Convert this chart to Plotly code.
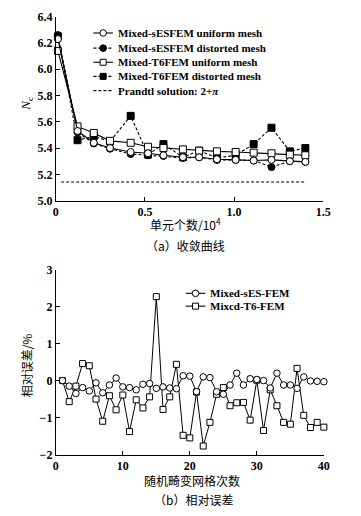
import plotly.graph_objects as go

# ---------------- data: (a) convergence curves ----------------
elements_1e4 = [0.012, 0.122, 0.213, 0.304, 0.42, 0.517, 0.604, 0.713, 0.804, 0.904, 1.009, 1.11, 1.21, 1.313, 1.40]
ses_uniform = [6.23, 5.53, 5.44, 5.40, 5.37, 5.36, 5.345, 5.33, 5.33, 5.315, 5.31, 5.305, 5.31, 5.30, 5.295]
ses_distorted = [6.26, 5.52, 5.435, 5.395, 5.355, 5.345, 5.34, 5.325, 5.33, 5.31, 5.31, 5.305, 5.255, 5.30, 5.295]
t6_uniform = [6.14, 5.565, 5.515, 5.455, 5.44, 5.41, 5.40, 5.39, 5.38, 5.375, 5.37, 5.365, 5.36, 5.35, 5.345]
t6_distorted = [6.25, 5.46, 5.49, 5.45, 5.645, 5.35, 5.43, 5.33, 5.38, 5.325, 5.345, 5.43, 5.555, 5.375, 5.40]
prandtl_x = [0.03, 1.40]
prandtl_value = 5.1416

top_xtickvals = [0, 0.5, 1.0, 1.5]
top_xticktext = ["0", "0.5", "1.0", "1.5"]

# ---------------- data: (b) relative error ----------------
mesh_run = list(range(1, 41))
err_ses = [0, -0.15, -0.35, -0.19, -0.28, -0.06, -0.33, -0.12, 0.07, -0.17,
           -0.19, -0.25, -0.10, -0.08, -0.21, -0.17, -0.20, -0.22, 0.13, 0.12,
           -0.30, 0.10, 0.08, -0.30, -0.37, -0.12, 0.20, -0.12, 0.05, 0.03,
           0.00, -0.20, 0.20, -0.12, -0.12, -0.21, 0.10, -0.01, -0.02, -0.03]
err_t6 = [0, -0.57, -0.15, 0.46, 0.40, -0.50, -1.10, -0.41, -0.79, -0.39,
          -1.38, -0.52, -0.74, -0.44, 2.27, -0.78, -0.44, 0.44, -1.48, -1.55,
          -0.31, -1.77, -1.13, -0.37, -0.19, -0.68, -0.60, -0.59, -1.07, 0.01,
          -1.35, -0.25, -0.68, -1.13, -1.18, 0.33, -0.94, -1.27, -1.13, -1.26]

W, H = 361, 516
SERIF = "Liberation Serif, Times New Roman, serif"
CJK = "Noto Sans CJK SC"


def px(x):
    return x / W


def py(y):
    return 1 - y / H


fig = go.Figure()

line_w = 1.1
top_series = [
    (ses_distorted, "dash", "circle", "black"),
    (t6_distorted, "dash", "square", "black"),
    (t6_uniform, "solid", "square", "white"),
    (ses_uniform, "solid", "circle", "white"),
]
for ys, dash, sym, fill in top_series:
    fig.add_trace(go.Scatter(
        x=elements_1e4, y=ys, mode="lines+markers", xaxis="x", yaxis="y",
        line=dict(color="black", width=line_w, dash="3px,2px" if dash == "dash" else "solid"),
        marker=dict(symbol=sym, size=7, color=fill, line=dict(color="black", width=1)),
        showlegend=False, cliponaxis=False))

fig.add_trace(go.Scatter(
    x=prandtl_x, y=[prandtl_value] * len(prandtl_x), mode="lines", xaxis="x", yaxis="y",
    line=dict(color="black", width=1.1, dash="3px,2px"), showlegend=False))

fig.add_trace(go.Scatter(
    x=mesh_run, y=err_t6, mode="lines+markers", xaxis="x2", yaxis="y2",
    line=dict(color="black", width=1),
    marker=dict(symbol="square", size=6, color="white", line=dict(color="black", width=1)),
    showlegend=False, cliponaxis=False))
fig.add_trace(go.Scatter(
    x=mesh_run, y=err_ses, mode="lines+markers", xaxis="x2", yaxis="y2",
    line=dict(color="black", width=1),
    marker=dict(symbol="circle", size=6.5, color="white", line=dict(color="black", width=1)),
    showlegend=False, cliponaxis=False))

axis_common = dict(
    showline=True, linecolor="black", linewidth=1, mirror=False,
    ticks="inside", ticklen=4, tickcolor="black", tickwidth=1,
    showgrid=False, zeroline=False,
    tickfont=dict(family=SERIF, size=12, color="black", weight="bold"),
)

fig.update_layout(
    width=W, height=H,
    margin=dict(l=0, r=0, t=0, b=0),
    paper_bgcolor="white", plot_bgcolor="white",
    xaxis=dict(domain=[px(54.3), px(329.3)], range=[0, 1.5], anchor="y",
               tickvals=top_xtickvals, ticktext=top_xticktext, **axis_common),
    yaxis=dict(domain=[py(199), py(10)], range=[5.0, 6.4], anchor="x",
               dtick=0.2, tick0=5.0, tickformat=".1f", **axis_common),
    xaxis2=dict(domain=[px(54.3), px(330)], range=[0, 40], anchor="y2",
                dtick=10, tick0=0, **axis_common),
    yaxis2=dict(domain=[py(460), py(270)], range=[-2, 3], anchor="x2",
                dtick=1, tick0=-2, **axis_common),
)

shapes = []
annotations = []


def legend_item(xl, yc, dash, sym, fill, text):
    shapes.append(dict(type="line", xref="paper", yref="paper",
                       x0=px(xl), x1=px(xl + 20), y0=py(yc), y1=py(yc),
                       line=dict(color="black", width=1.1, dash=dash)))
    if sym is not None:
        r = 3.3 if sym == "circle" else 3.0
        shapes.append(dict(type="circle" if sym == "circle" else "rect",
                           xref="paper", yref="paper",
                           xsizemode="pixel", ysizemode="pixel",
                           xanchor=px(xl + 10), yanchor=py(yc),
                           x0=-r, x1=r, y0=-r, y1=r,
                           fillcolor=fill, line=dict(color="black", width=1)))
    annotations.append(dict(xref="paper", yref="paper", x=px(xl + 23), y=py(yc),
                            xanchor="left", yanchor="middle", showarrow=False,
                            text=text, font=dict(family=SERIF, size=11, color="black", weight="bold")))


legend_item(93, 26.7, "solid", "circle", "white", "Mixed-sESFEM uniform mesh")
legend_item(93, 42.3, "3px,2px", "circle", "black", "Mixed-sESFEM distorted mesh")
legend_item(93, 56.8, "solid", "square", "white", "Mixed-T6FEM uniform mesh")
legend_item(93, 71.3, "3px,2px", "square", "black", "Mixed-T6FEM distorted mesh")
legend_item(93, 86.0, "3px,2px", None, None, "Prandtl solution: 2+<i>π</i>")

legend_item(188, 294.3, "solid", "circle", "white", "Mixed-sES-FEM")
legend_item(188, 307.5, "solid", "square", "white", "Mixcd-T6-FEM")

# axis titles and captions
annotations.append(dict(xref="paper", yref="paper", x=px(24), y=py(99), textangle=-90,
                        xanchor="center", yanchor="middle", showarrow=False,
                        text="<i>N</i><sub>c</sub>",
                        font=dict(family=SERIF, size=13, color="black")))
annotations.append(dict(xref="paper", yref="paper", x=px(188), y=py(223),
                        xanchor="center", yanchor="middle", showarrow=False,
                        text="单元个数/10<sup>4</sup>",
                        font=dict(family=CJK, size=12, color="black")))
annotations.append(dict(xref="paper", yref="paper", x=px(188), y=py(245),
                        xanchor="center", yanchor="middle", showarrow=False,
                        text="（a）收敛曲线",
                        font=dict(family=CJK, size=12, color="black")))
annotations.append(dict(xref="paper", yref="paper", x=px(24), y=py(368), textangle=-90,
                        xanchor="center", yanchor="middle", showarrow=False,
                        text="相对误差/%",
                        font=dict(family=CJK, size=12, color="black")))
annotations.append(dict(xref="paper", yref="paper", x=px(194), y=py(487),
                        xanchor="center", yanchor="middle", showarrow=False,
                        text="随机畸变网格次数",
                        font=dict(family=CJK, size=12, color="black")))
annotations.append(dict(xref="paper", yref="paper", x=px(196), y=py(506),
                        xanchor="center", yanchor="middle", showarrow=False,
                        text="（b）相对误差",
                        font=dict(family=CJK, size=12, color="black")))

fig.update_layout(shapes=shapes, annotations=annotations)

fig.write_html("out.html", config={"displayModeBar": False},
               post_script="document.body.style.margin='0';")
